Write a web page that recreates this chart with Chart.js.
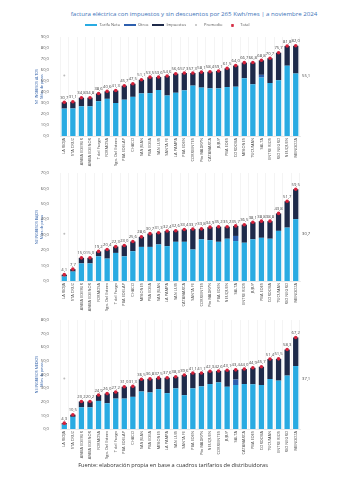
<!DOCTYPE html>
<html>
<head>
<meta charset="utf-8">
<script src="https://cdn.jsdelivr.net/npm/chart.js@4.4.1/dist/chart.umd.min.js"></script>
<style>
  body { margin: 0; background: #ffffff; width: 350px; height: 484px; position: relative; overflow: hidden; font-family: 'Open Sans', sans-serif; }
  .box { position: absolute; left: 0; width: 350px; }
  #title { position: absolute; top: 9px; left: 0; width: 388px; text-align: center; font-size: 6.1px; color: #3d72b8; }
  #footer { position: absolute; top: 461px; left: 0; width: 346px; text-align: center; font-size: 5.6px; color: #333; }
</style>
</head>
<body>
<div id="title">factura eléctrica con impuestos y sin descuentos por 265 Kwh/mes | a noviembre 2024</div>
<div class="box" style="top:19px;height:155px"><canvas id="c1"></canvas></div>
<div class="box" style="top:165px;height:154px"><canvas id="c2"></canvas></div>
<div class="box" style="top:312px;height:155px"><canvas id="c3"></canvas></div>
<div id="footer">Fuente: elaboración propia en base a cuadros tarifarios de distribuidoras</div>
<script>
// N1 - ingresos altos
const cats1 = ['LA RIOJA', 'STA CRUZ', 'AMBA EDESUR', 'AMBA EDENOR', 'T del Fuego', 'FORMOSA', 'Sgo. Del Estero',
    'PBA EDELAP', 'CHACO', 'SAN JUAN', 'PBA EDEA', 'SAN LUIS', 'SANTA FE', 'LA PAMPA', 'PBA EDEN', 'CORRIENTES',
    'Pto MADRYN', 'CATAMARCA', 'JUJUY', 'PBA EDES', 'CORDOBA', 'MISIONES', 'TUCUMAN', 'SALTA', 'ENTRE RIOS',
    'RIO NEGRO', 'NEUQUEN', 'MENDOZA'];
const neta1 = [24.9, 25.0, 27.0, 27.0, 31.6, 33.8, 30.0, 33.0, 35.6, 38.7, 39.0, 41.8, 36.8, 39.3, 41.5, 45.8,
    44.0, 43.3, 43.3, 44.5, 44.8, 52.5, 47.0, 53.1, 48.2, 50.7, 63.9, 56.8];
const otros1 = [0, 0, 0, 0, 0, 0, 0, 0, 0, 0, 0, 0, 0, 0, 0, 0, 0, 0, 0, 0, 0, 0, 0, 2.5, 0, 0, 0, 0];
const total1 = [30.7, 31.1, 34.8, 34.8, 38.6, 40.6, 41.3, 45.7, 47.5, 51.1, 53.5, 53.6, 54.6, 56.6, 57.3, 57.3,
    58.1, 58.4, 59.1, 61.5, 64.0, 66.7, 66.8, 68.8, 70.7, 75.7, 81.8, 82.0];
const promedio1 = 55.1;

// N2 - ingresos bajos
const cats2 = ['LA RIOJA', 'STA CRUZ', 'AMBA EDESUR', 'AMBA EDENOR', 'FORMOSA', 'Sgo. Del Estero', 'T del Fuego',
    'PBA EDELAP', 'CHACO', 'MISIONES', 'PBA EDEA', 'SAN JUAN', 'LA PAMPA', 'SAN LUIS', 'CATAMARCA', 'SANTA FE',
    'CORRIENTES', 'Pto MADRYN', 'PBA EDEN', 'NEUQUEN', 'SALTA', 'ENTRE RIOS', 'JUJUY', 'PBA EDES', 'CORDOBA',
    'TUCUMAN', 'RIO NEGRO', 'MENDOZA'];
const neta2 = [2.9, 6.1, 11.4, 11.4, 16.0, 14.5, 18.2, 16.0, 19.3, 22.1, 22.1, 23.7, 22.6, 25.4, 25.4, 20.4,
    27.0, 26.5, 25.4, 27.4, 25.9, 24.8, 27.0, 28.0, 27.4, 32.5, 34.6, 40.1];
const otros2 = [0, 0, 0, 0, 0, 0, 0, 0, 0, 0, 0, 0, 0, 0, 0, 0, 0, 0, 0, 0, 3.3, 0, 0, 0, 0, 0, 0, 0];
const total2 = [4.1, 7.7, 15.0, 15.0, 19.2, 20.4, 22.3, 23.0, 25.6, 28.6, 30.7, 31.3, 32.4, 32.6, 33.4, 33.7,
    33.8, 34.9, 35.2, 35.2, 35.7, 36.5, 38.1, 38.8, 38.8, 43.8, 51.7, 59.5];
const promedio2 = 30.7;

// N3 - ingresos medios
const cats3 = ['LA RIOJA', 'STA CRUZ', 'AMBA EDESUR', 'AMBA EDENOR', 'FORMOSA', 'Sgo. Del Estero', 'T del Fuego',
    'PBA EDELAP', 'CHACO', 'SAN JUAN', 'PBA EDEA', 'MISIONES', 'LA PAMPA', 'SAN LUIS', 'SANTA FE', 'PBA EDEN',
    'Pto MADRYN', 'NEUQUEN', 'CORRIENTES', 'JUJUY', 'SALTA', 'CATAMARCA', 'PBA EDES', 'CORDOBA', 'TUCUMAN',
    'ENTRE RIOS', 'RIO NEGRO', 'MENDOZA'];
const neta3 = [3.2, 8.9, 15.9, 15.9, 20.6, 18.9, 22.3, 22.3, 23.6, 27.5, 26.8, 29.3, 26.3, 29.8, 24.8, 29.8,
    31.3, 33.0, 34.2, 31.0, 32.3, 33.0, 32.8, 32.3, 36.7, 35.5, 39.2, 46.2];
const otros3 = [0, 0, 0, 0, 0, 0, 0, 0, 0, 0, 0, 0, 0, 0, 0, 0, 0, 0, 0, 0, 4.0, 0, 0, 0, 0, 0, 0, 0];
const total3 = [4.3, 10.5, 20.2, 20.2, 24.9, 26.0, 27.2, 31.0, 31.3, 36.5, 36.8, 37.5, 37.6, 38.3, 39.6, 41.1,
    41.1, 42.3, 42.6, 43.1, 43.4, 44.0, 44.9, 45.7, 51.4, 51.5, 58.3, 67.2];
const promedio3 = 37.1;

const seriesNames = ['Tarifa Neta', 'Otros', 'Impuestos', 'Promedio', 'Total'];

const C_NETA = '#29abe2';
const C_OTROS = '#2d5fae';
const C_IMP = '#1e2a4a';
const C_TOTAL = '#d3213a';
const FONT = 'Open Sans';

function fmt(v) {
    return v.toFixed(1).replace('.', ',');
}

// small canvases used as legend markers
function marker(w, h, color, round) {
    const c = document.createElement('canvas');
    c.width = w;
    c.height = h;
    const x = c.getContext('2d');
    x.fillStyle = color;
    if (round) {
        x.beginPath();
        x.arc(w / 2, h / 2, w / 2, 0, Math.PI * 2);
        x.fill();
    } else {
        x.fillRect(0, 0, w, h);
    }
    return c;
}
const markers = [marker(12, 2, C_NETA), marker(12, 2, C_OTROS), marker(12, 2, C_IMP),
    marker(2, 2, '#bbbbbb', true), marker(3, 3, C_TOTAL, true)];

// values over the red dots + average label at the right end
const labelsPlugin = {
    id: 'valueLabels',
    afterDatasetsDraw: function (chart) {
        const ctx = chart.ctx;
        const tot = chart.getDatasetMeta(4);
        const prom = chart.getDatasetMeta(3);
        ctx.save();
        ctx.font = '4.2px "' + FONT + '"';
        ctx.fillStyle = '#444';
        ctx.textAlign = 'center';
        ctx.textBaseline = 'bottom';
        tot.data.forEach(function (pt, i) {
            ctx.fillText(fmt(chart.data.datasets[4].data[i]), pt.x, pt.y - 2.5);
        });
        const last = prom.data[prom.data.length - 1];
        ctx.textAlign = 'left';
        ctx.textBaseline = 'middle';
        ctx.fillText(fmt(chart.data.datasets[3].data[0]), chart.chartArea.right + 2, last.y);
        ctx.restore();
    }
};

function makeChart(id, cats, neta, otros, total, promedio, yMax, yTitle, showLegend, padTop) {
    const imp = total.map(function (t, i) { return +(t - neta[i] - otros[i]).toFixed(1); });
    const promLine = cats.map(function () { return promedio; });
    const promRadius = cats.map(function (c, i) { return i === 0 ? 1 : 0; });

    return new Chart(document.getElementById(id), {
        type: 'bar',
        data: {
            labels: cats,
            datasets: [
                { label: seriesNames[0], data: neta, backgroundColor: C_NETA, stack: 'bars', order: 1 },
                { label: seriesNames[1], data: otros, backgroundColor: C_OTROS, stack: 'bars', order: 1 },
                { label: seriesNames[2], data: imp, backgroundColor: C_IMP, stack: 'bars', order: 1 },
                {
                    type: 'line', label: seriesNames[3], data: promLine, stack: 'prom', order: 0,
                    borderColor: 'rgba(0,0,0,0)', borderWidth: 0,
                    pointRadius: promRadius, pointBackgroundColor: '#bbbbbb', pointBorderWidth: 0
                },
                {
                    type: 'line', label: seriesNames[4], data: total, stack: 'tot', order: 0,
                    showLine: false, pointRadius: 1.8, pointBackgroundColor: C_TOTAL,
                    pointBorderColor: C_TOTAL, pointBorderWidth: 0
                }
            ]
        },
        options: {
            responsive: true,
            maintainAspectRatio: false,
            animation: false,
            events: [],
            layout: { padding: { left: 35, right: 50, top: padTop, bottom: 0 } },
            datasets: { bar: { barPercentage: 0.62, categoryPercentage: 1 } },
            plugins: {
                title: { display: false },
                tooltip: { enabled: false },
                legend: {
                    display: showLegend,
                    position: 'top',
                    padding: 0,
                    labels: {
                        usePointStyle: true,
                        pointStyleWidth: 12,
                        padding: 4,
                        color: '#555',
                        font: { size: 4, family: FONT },
                        generateLabels: function () {
                            return seriesNames.map(function (n, i) {
                                return {
                                    text: n, pointStyle: markers[i], fillStyle: 'rgba(0,0,0,0)',
                                    strokeStyle: 'rgba(0,0,0,0)', lineWidth: 0, hidden: false,
                                    datasetIndex: i, fontColor: '#555'
                                };
                            });
                        }
                    }
                }
            },
            scales: {
                x: {
                    stacked: true,
                    afterFit: function (s) { s.height = 38; },
                    grid: { color: '#ececec', lineWidth: 0.6, drawTicks: false },
                    border: { color: '#d8d8d8', width: 0.6 },
                    ticks: {
                        autoSkip: false, maxRotation: 90, minRotation: 90, padding: 2,
                        color: '#444', font: { size: 4, family: FONT }
                    }
                },
                y: {
                    stacked: true,
                    min: 0,
                    max: yMax,
                    afterFit: function (s) { s.width = 25; },
                    grid: { display: false },
                    border: { display: false },
                    ticks: {
                        stepSize: 10, padding: 3, color: '#555',
                        font: { size: 4.2, family: FONT },
                        callback: function (v) { return fmt(v); }
                    },
                    title: {
                        display: true,
                        text: yTitle,
                        color: '#2f5fa8',
                        padding: 0,
                        font: { size: 3.6, family: FONT }
                    }
                }
            }
        },
        plugins: [labelsPlugin]
    });
}

makeChart('c1', cats1, neta1, otros1, total1, promedio1, 90, ['N1 INGRESOS ALTOS', 'Miles de pesos'], true, 0);
makeChart('c2', cats2, neta2, otros2, total2, promedio2, 70, ['N2 INGRESOS BAJOS', 'Miles de pesos'], false, 8);
makeChart('c3', cats3, neta3, otros3, total3, promedio3, 80, ['N3 INGRESOS MEDIOS', 'Miles de pesos'], false, 8);
</script>
</body>
</html>
